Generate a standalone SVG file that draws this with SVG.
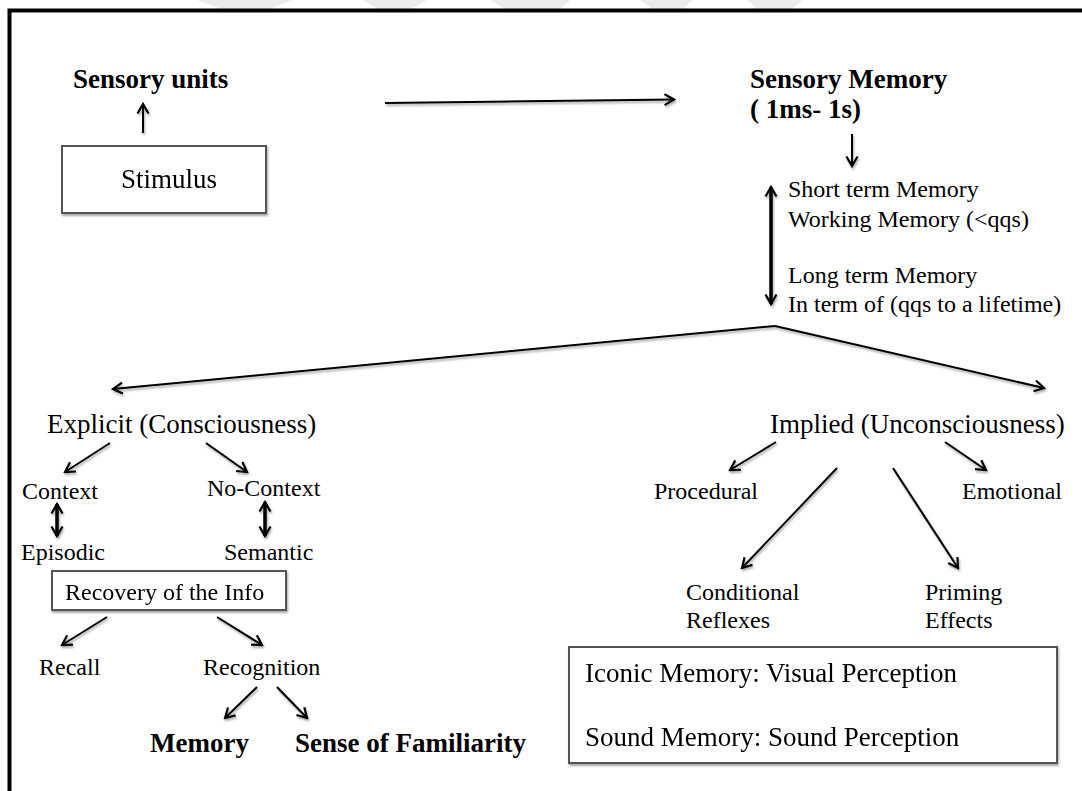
<svg xmlns="http://www.w3.org/2000/svg" width="1082" height="791" viewBox="0 0 1082 791">
  <defs>
    <marker id="head" viewBox="0 0 14 14" refX="12" refY="7" markerWidth="14" markerHeight="14" markerUnits="userSpaceOnUse" orient="auto-start-reverse">
      <polyline points="2.5,1.5 12,7 2.5,12.5" fill="none" stroke="#000" stroke-width="2.2" stroke-linejoin="miter"/>
    </marker>
    <filter id="shadow" x="-5%" y="-5%" width="110%" height="115%">
      <feGaussianBlur in="SourceAlpha" stdDeviation="1"/>
      <feOffset dx="1" dy="1.5" result="b"/>
      <feComponentTransfer><feFuncA type="linear" slope="0.35"/></feComponentTransfer>
      <feMerge><feMergeNode/><feMergeNode in="SourceGraphic"/></feMerge>
    </filter>
  </defs>
  <style>
    text { font-family: "Liberation Serif", "Times New Roman", serif; fill: #000; }
    .b { font-weight: bold; font-size: 27px; }
    .t { font-size: 27px; }
    .s { font-size: 24px; }
    .m { font-size: 27px; }
    .box { fill: #fff; stroke: #555; stroke-width: 2; }
    .c line, .c path { stroke: #000; stroke-width: 2; fill: none; marker-end: url(#head); }
    .c .dbl { stroke-width: 3.5; marker-start: url(#head); }
  </style>

  <rect width="1082" height="791" fill="#fff"/>

  <!-- faint banner stripes above the frame -->
  <g fill="#ececec">
    <polygon points="197,0 293,0 270,9 222,9"/>
    <polygon points="363,0 427,0 410,9 378,9"/>
    <polygon points="490,0 570,0 560,9 505,9"/>
    <polygon points="640,0 693,0 683,9 652,9"/>
    <polygon points="747,0 803,0 792,9 758,9"/>
  </g>

  <!-- outer frame -->
  <path d="M9.5,791 V10.5 H1082" fill="none" stroke="#000" stroke-width="4"/>

  <g id="sensory-units"><text class="b" x="73" y="88">Sensory units</text></g>
  <g id="stimulus" filter="url(#shadow)">
    <rect class="box" x="62" y="146" width="204" height="67"/>
    <text class="t" x="121" y="188">Stimulus</text>
  </g>
  <g id="sensory-memory">
    <text class="b" x="750" y="88">Sensory Memory</text>
    <text class="b" x="750" y="118">( 1ms- 1s)</text>
  </g>
  <g id="short-long-term">
    <text class="s" x="788" y="197">Short term Memory</text>
    <text class="s" x="788" y="227">Working Memory (&lt;qqs)</text>
    <text class="s" x="788" y="283">Long term Memory</text>
    <text class="s" x="788" y="312">In term of (qqs to a lifetime)</text>
  </g>
  <g id="explicit"><text class="t" x="47" y="433">Explicit (Consciousness)</text></g>
  <g id="context"><text class="s" x="22" y="499">Context</text></g>
  <g id="no-context"><text class="s" x="207" y="496">No-Context</text></g>
  <g id="episodic"><text class="s" x="21" y="560">Episodic</text></g>
  <g id="semantic"><text class="s" x="224" y="560">Semantic</text></g>
  <g id="recovery" filter="url(#shadow)">
    <rect class="box" x="52" y="571" width="234" height="39"/>
    <text class="s" x="65" y="600">Recovery of the Info</text>
  </g>
  <g id="recall"><text class="s" x="39" y="675">Recall</text></g>
  <g id="recognition"><text class="s" x="203" y="675">Recognition</text></g>
  <g id="memory"><text class="b" x="150" y="752">Memory</text></g>
  <g id="familiarity"><text class="b" x="295" y="752">Sense of Familiarity</text></g>

  <g id="implied"><text class="t" x="770" y="433">Implied (Unconsciousness)</text></g>
  <g id="procedural"><text class="s" x="654" y="499">Procedural</text></g>
  <g id="emotional"><text class="s" x="962" y="499">Emotional</text></g>
  <g id="conditional">
    <text class="s" x="686" y="600">Conditional</text>
    <text class="s" x="686" y="628">Reflexes</text>
  </g>
  <g id="priming">
    <text class="s" x="925" y="600">Priming</text>
    <text class="s" x="925" y="628">Effects</text>
  </g>
  <g id="perception" filter="url(#shadow)">
    <rect class="box" x="569" y="647" width="488" height="116"/>
    <text class="m" x="585" y="682">Iconic Memory: Visual Perception</text>
    <text class="m" x="585" y="746">Sound Memory: Sound Perception</text>
  </g>

  <g id="connectors" class="c" filter="url(#shadow)">
    <line x1="143" y1="133" x2="143" y2="104"/>
    <line x1="385" y1="103" x2="674" y2="99.5"/>
    <line x1="852" y1="134" x2="852" y2="166"/>
    <line class="dbl" x1="771" y1="187" x2="771" y2="304"/>
    <path d="M775,326 L113,389"/>
    <path d="M775,326 L1044,388"/>
    <line x1="110" y1="443" x2="65" y2="472"/>
    <line x1="206" y1="443" x2="247" y2="472"/>
    <line class="dbl" x1="57" y1="504" x2="57" y2="536"/>
    <line class="dbl" x1="265" y1="502" x2="265" y2="536"/>
    <line x1="107" y1="617" x2="62" y2="645"/>
    <line x1="217" y1="617" x2="262" y2="645"/>
    <line x1="257" y1="687" x2="225" y2="718"/>
    <line x1="277" y1="687" x2="307" y2="718"/>
    <line x1="776" y1="442" x2="730" y2="470"/>
    <line x1="945" y1="442" x2="986" y2="470"/>
    <line x1="837" y1="468" x2="742" y2="568"/>
    <line x1="893" y1="468" x2="958" y2="568"/>
  </g>
</svg>
